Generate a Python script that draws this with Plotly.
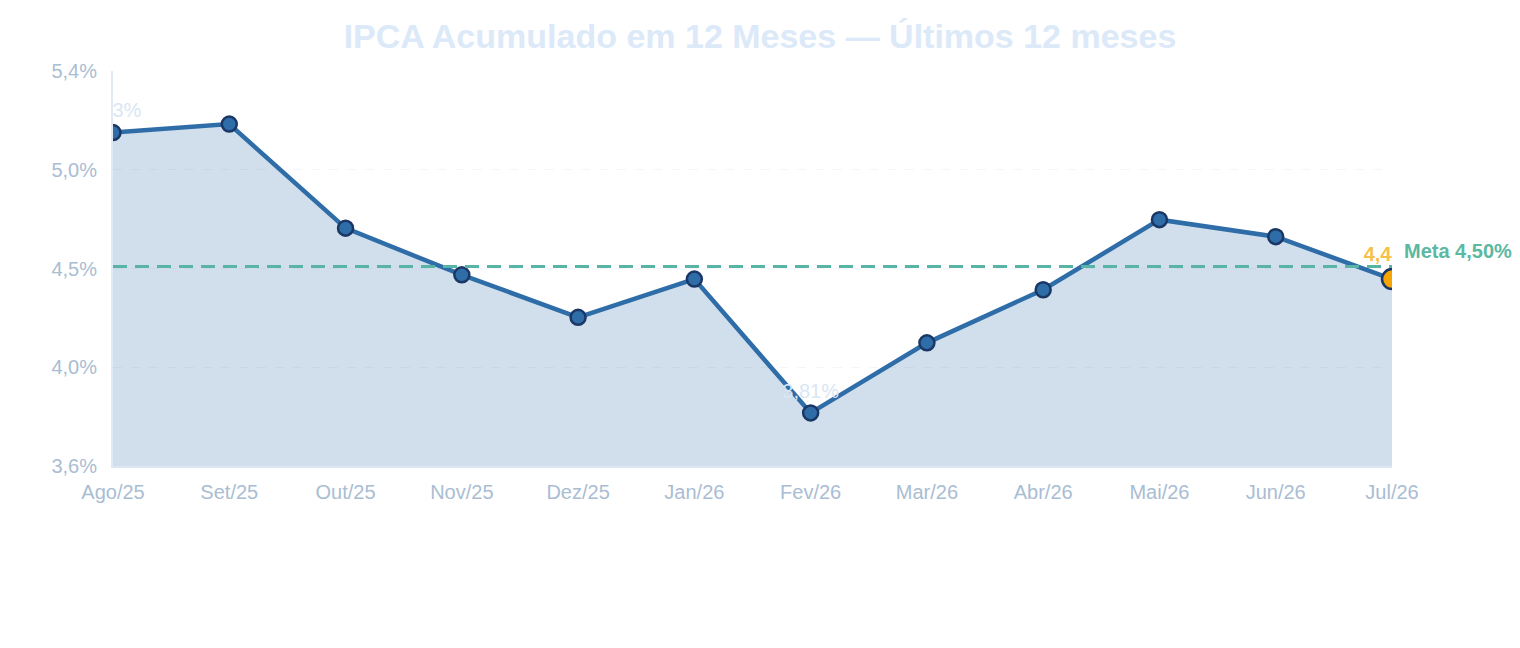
import plotly.graph_objects as go

# IPCA acumulado 12 meses
meses = ["Ago/25", "Set/25", "Out/25", "Nov/25", "Dez/25", "Jan/26",
         "Fev/26", "Mar/26", "Abr/26", "Mai/26", "Jun/26", "Jul/26"]
ipca = [5.13, 5.17, 4.68, 4.46, 4.26, 4.44, 3.81, 4.14, 4.39, 4.72, 4.64, 4.44]
meta = 4.50

# rótulos só no primeiro ponto e no mínimo
rotulos = ["5,13%", "", "", "", "", "", "3,81%", "", "", "", "", ""]
rotulo_ultimo = "4,44%"

y_range = [3.56, 5.42]
y_ticks = [3.56, 4.025, 4.49, 4.955, 5.42]
y_ticktext = ["3,6%", "4,0%", "4,5%", "5,0%", "5,4%"]

AZUL = "#2e6da8"
AZUL_ESC = "#1b3766"
FONT = "Liberation Sans, Arial, sans-serif"

fig = go.Figure()

fig.add_trace(go.Scatter(
    x=meses, y=ipca,
    mode="lines+markers+text",
    fill="tozeroy",
    fillcolor="rgba(46,109,168,0.22)",
    line=dict(color=AZUL, width=4.5),
    marker=dict(size=15, color=AZUL, line=dict(color=AZUL_ESC, width=2.5)),
    text=rotulos,
    textposition="top center",
    textfont=dict(size=20, color="#d9e6f4", family=FONT),
    showlegend=False,
))

# último ponto em destaque
fig.add_trace(go.Scatter(
    x=[meses[-1]], y=[ipca[-1]],
    mode="markers+text",
    marker=dict(size=20, color="#f5a400", line=dict(color=AZUL_ESC, width=2.5)),
    text=[rotulo_ultimo],
    textposition="top center",
    textfont=dict(size=20, color="#f7c04a", family=FONT),
    texttemplate="<b>%{text}</b>",
    showlegend=False,
))

# linha da meta
fig.add_shape(type="line", xref="paper", x0=0, x1=1, yref="y", y0=meta, y1=meta,
              line=dict(color="#58b4a4", width=3, dash="14px,8px"))
fig.add_annotation(xref="paper", x=1, y=meta, xanchor="left", yanchor="middle",
                   xshift=10, yshift=15, showarrow=False,
                   text="<b>Meta 4,50%</b>",
                   font=dict(size=20, color="#5bb8a2", family=FONT))

# a página tem 8px de margem no body
fig.update_layout(
    width=1504, height=632,
    margin=dict(l=105, r=120, t=63, b=174),
    paper_bgcolor="white", plot_bgcolor="white",
    font=dict(family=FONT),
    title=dict(text="<b>IPCA Acumulado em 12 Meses — Últimos 12 meses</b>",
               x=0.5, xanchor="center", y=0.955, yanchor="middle",
               font=dict(size=34, color="#dce9f8", family=FONT)),
)

fig.update_xaxes(
    range=[0, len(meses) - 1],
    showgrid=False,
    showline=True, linecolor="#dbe7f3", linewidth=1.5,
    tickfont=dict(size=20, color="#a9bdd3"),
    ticks="", ticklabelstandoff=7,
)
fig.update_yaxes(
    range=y_range,
    tickvals=y_ticks, ticktext=y_ticktext,
    showgrid=True, gridcolor="#f2f5f9", griddash="dash", gridwidth=1,
    showline=True, linecolor="#dfeaf5", linewidth=2,
    zeroline=False,
    tickfont=dict(size=20, color="#a9bdd3"),
    ticks="", ticklabelstandoff=10,
)

fig.write_html("out.html")
